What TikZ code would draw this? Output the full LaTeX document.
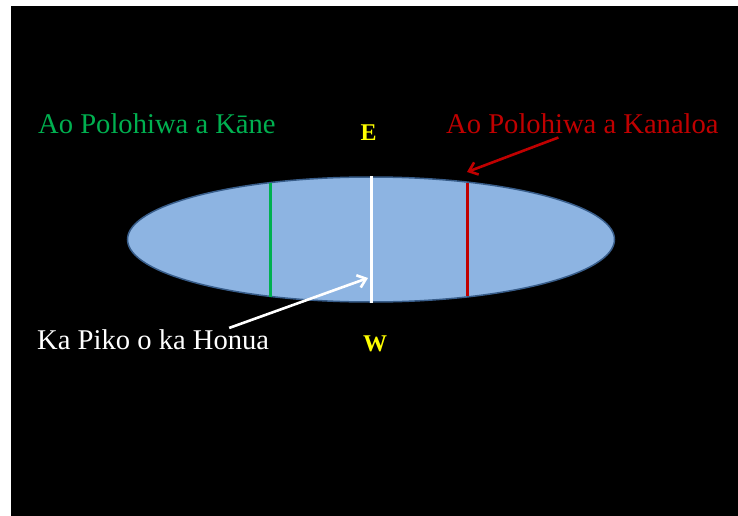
\documentclass[tikz,border=0pt]{standalone}
\usepackage{fontspec}
\setmainfont{Liberation Serif}
\usetikzlibrary{arrows.meta,shapes.geometric}
\definecolor{kaneC}{RGB}{0,176,80}
\definecolor{kanaloaC}{RGB}{192,0,0}
\definecolor{honuaC}{RGB}{141,180,226}
\definecolor{rimC}{RGB}{56,93,138}
\definecolor{compassC}{RGB}{255,255,0}
\tikzset{
  ttl/.style={inner sep=0pt, anchor=base west, font=\fontsize{28.6}{34}\selectfont, text=#1},
  compass/.style={inner sep=0pt, anchor=base, font=\fontsize{24}{28}\selectfont\bfseries, text=compassC},
  meridian/.style={draw=#1, line width=3pt},
  pointer/.style={draw=#1, line width=2.6pt, -{Straight Barb[length=8pt,width=13pt]}},
}
\begin{document}
\begin{tikzpicture}[x=1pt,y=-1pt]
  \useasboundingbox (0,0) rectangle (738,516);
  \fill[white] (0,0) rectangle (738,516);
  \fill[black] (11,6) rectangle (738,516);
  \node[ellipse, draw=rimC, line width=1.5pt, fill=honuaC, minimum width=487pt,
        minimum height=125pt, inner sep=0pt] (honua) at (371,239.5) {};
  \draw[meridian=kaneC] (270,182.5) -- (270,296.5);
  \draw[meridian=white] (honua.north) -- (honua.south);
  \draw[meridian=kanaloaC] (467,183) -- (467,296);
  \node[ttl=kaneC] (kane) at (38,133) {Ao Polohiwa a Kāne};
  \node[ttl=kanaloaC] (kanaloa) at (446,133) {Ao Polohiwa a Kanaloa};
  \node[ttl=white] (piko) at (37,349) {Ka Piko o ka Honua};
  \node[compass] (east) at (368.5,140.5) {E};
  \node[compass] (west) at (375,351) {W};
  \coordinate (kanaloaTip) at (467,172);
  \coordinate (pikoTip) at (368,278);
  \draw[pointer=kanaloaC] ([shift={(-24,4)}]kanaloa.south) -- (kanaloaTip);
  \draw[pointer=white] ([shift={(76,-1)}]piko.north) -- (pikoTip);
\end{tikzpicture}
\end{document}
